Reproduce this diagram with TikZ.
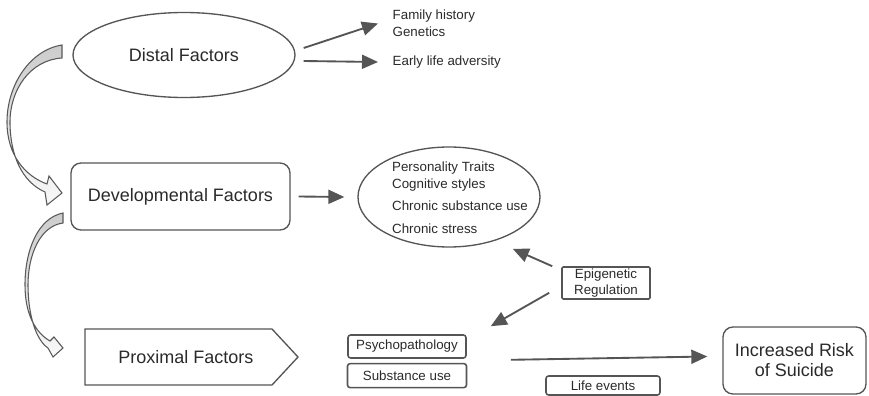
\documentclass[tikz,border=0pt]{standalone}
\usepackage{fontspec}
\setmainfont{Liberation Sans}
\usepackage{tikz}
\usetikzlibrary{positioning, arrows.meta, calc, shapes.geometric}
\definecolor{linegray}{HTML}{555555}
\definecolor{textgray}{HTML}{2A2A2A}

\begin{document}
\begin{tikzpicture}[x=0.75pt, y=-0.75pt,
    big/.style={font=\fontsize{13.5}{15}\selectfont, text=textgray},
    small/.style={font=\fontsize{10}{12.5}\selectfont, text=textgray},
    oval/.style={ellipse, draw=linegray, line width=1pt},
    rbox/.style={rectangle, rounded corners=7.5pt, draw=linegray, line width=1pt},
    tag/.style={rectangle, rounded corners=2pt, draw=linegray, line width=1.2pt, small, inner sep=1pt},
    arr/.style={-{Triangle[length=12pt,width=10.5pt]}, linegray, line width=1.4pt},
    bendarrow/.style={draw=gray!70!black, line width=0.8pt, top color=gray!40, bottom color=gray!5}]

    \useasboundingbox (0,0) rectangle (869,396);

    \node[oval, big, minimum width=166.5pt, minimum height=63.75pt] (dist) at (184,55) {Distal Factors};
    \node[small, anchor=west, align=left] (fam) at (388,23.5) {Family history\\Genetics};
    \node[small, anchor=west] (early) at (388,62) {Early life adversity};

    \node[rbox, big, minimum width=164.25pt, minimum height=50.25pt] (dev) at (180.5,196.5) {Developmental Factors};
    \node[oval, minimum width=136.5pt, minimum height=75pt] (trait) at (449,197) {};
    \node[small, align=left] (traitlist) at (460,198) {Personality Traits\\Cognitive styles\\[4pt]Chronic substance use\\[5pt]Chronic stress};
    \node[rectangle, rounded corners=1pt, draw=linegray, line width=1.2pt, small, align=center,
          inner sep=1pt, minimum width=66pt, minimum height=24pt] (epi) at (606,283) {Epigenetic\\Regulation};

    \node[big] (prox) at (186,357) {Proximal Factors};
    \draw[linegray, line width=1pt] (prox.center) ++(-101,-28) -- ++(187,0) -- ++(26,28) -- ++(-26,28) -- ++(-187,0) -- cycle;
    \node[tag, minimum width=88.5pt, minimum height=17.25pt] (psy) at (407,346.5) {Psychopathology};
    \node[tag, minimum width=89.25pt, minimum height=18pt, below=3pt of psy] (sub) {Substance use};
    \node[tag, minimum width=85.5pt, minimum height=14.25pt] (life) at (603,385.5) {Life events};
    \node[rbox, big, align=center, minimum width=107.25pt, minimum height=50.25pt] (risk) at (794.5,360.5) {Increased Risk\\of Suicide};

    \path[arr]
    ([shift={(8,-7)}]dist.east) edge ([shift={(-10,0)}]fam.west)
    ([shift={(8,6)}]dist.east) edge ([shift={(-10,0)}]early.west)
    ([shift={(8,0)}]dev.east) edge ([shift={(-13,0)}]trait.west)
    ([shift={(-9,0)}]epi.north west) edge ([shift={(-1,16)}]trait.south east)
    ([shift={(-12,-7)}]epi.south west) edge ([shift={(24,-8)}]psy.north east)
    ([shift={(44,1)}]psy.south east) edge ([shift={(-15,-4)}]risk.west)
    ;

    % curved block arrows on the left
    \draw[bendarrow] (62,45) .. controls (30,50) and (7,85) .. (7,122)
        .. controls (7,155) and (25,176) .. (47,184) -- (49,176) -- (62,193) -- (47,205) -- (45,192)
        .. controls (22,182) and (10,155) .. (10,122)
        .. controls (10,90) and (30,60) .. (62,58) -- cycle;
    \draw[bendarrow] (63,213) .. controls (38,218) and (25,250) .. (25,285)
        .. controls (25,315) and (36,333) .. (50,341) -- (54,337) -- (63,348) -- (53,357) -- (48,348)
        .. controls (36,340) and (28,315) .. (28,285)
        .. controls (28,255) and (40,226) .. (63,223) -- cycle;
\end{tikzpicture}
\end{document}
